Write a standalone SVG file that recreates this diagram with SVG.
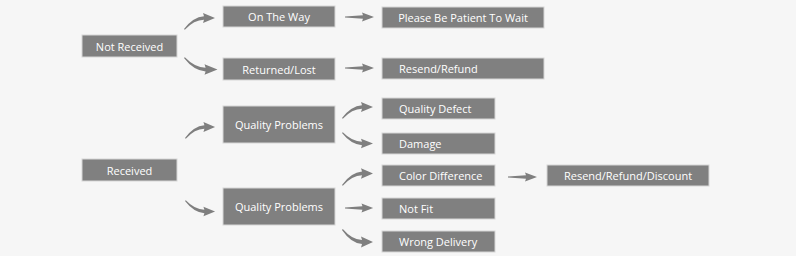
<svg xmlns="http://www.w3.org/2000/svg" xmlns:xlink="http://www.w3.org/1999/xlink" width="796" height="256" viewBox="0 0 796 256">
<style>
.box{fill:#808080;stroke:#d6d6d6;stroke-width:1}
.t{fill:#ffffff;font-family:"Open Sans","Noto Sans",sans-serif;font-size:11px;dominant-baseline:central}
.c{text-anchor:middle}
.arr{fill:#7f7f7f}
</style>
<defs>
<path id="cu" d="M0,0 Q9,-12 20,-12.8 L19,-16 L31,-11 L19,-6 L20,-9.2 Q10,-9 0.8,0.8 Z"/>
<path id="st" d="M0,-0.5 L18,-1.8 L17,-4.5 L29,0 L17,4.5 L18,1.8 L0,0.5 Z"/>
</defs>
<rect width="796" height="256" fill="#f6f6f6"/>
<g id="connectors" class="arr">
<use xlink:href="#cu" transform="translate(184,29)"/>
<use xlink:href="#cu" transform="translate(184,58) scale(1.08,-1.05)"/>
<use xlink:href="#st" transform="translate(345,17)"/>
<use xlink:href="#st" transform="translate(345,68)"/>
<use xlink:href="#cu" transform="translate(185,138) scale(0.97,1)"/>
<use xlink:href="#cu" transform="translate(185,201) scale(0.97,-0.95)"/>
<use xlink:href="#cu" transform="translate(342,118)"/>
<use xlink:href="#cu" transform="translate(342,133) scale(1,-0.95)"/>
<use xlink:href="#cu" transform="translate(342,185) scale(1,1.05)"/>
<use xlink:href="#st" transform="translate(345,208) scale(0.97,1)"/>
<use xlink:href="#cu" transform="translate(342,230) scale(1,-1.1)"/>
<use xlink:href="#st" transform="translate(508,177)"/>
</g>
<g id="not-received"><rect class="box" x="82" y="35" width="95" height="22"/><text class="t c" x="129.5" y="46">Not Received</text></g>
<g id="on-the-way"><rect class="box" x="223" y="6" width="112" height="21"/><text class="t c" x="279" y="16.5">On The Way</text></g>
<g id="returned-lost"><rect class="box" x="223" y="58" width="112" height="22"/><text class="t c" x="279" y="69">Returned/Lost</text></g>
<g id="please-wait"><rect class="box" x="382" y="7" width="162" height="21"/><text class="t c" x="463" y="17.5">Please Be Patient To Wait</text></g>
<g id="resend-refund"><rect class="box" x="382" y="58" width="162" height="21"/><text class="t" x="399" y="68.5">Resend/Refund</text></g>
<g id="received"><rect class="box" x="82" y="159" width="95" height="22"/><text class="t c" x="129.5" y="170">Received</text></g>
<g id="quality-problems-1"><rect class="box" x="223" y="106" width="112" height="37"/><text class="t c" x="279" y="124.5">Quality Problems</text></g>
<g id="quality-problems-2"><rect class="box" x="223" y="188" width="112" height="37"/><text class="t c" x="279" y="206.5">Quality Problems</text></g>
<g id="quality-defect"><rect class="box" x="382" y="98" width="113" height="21"/><text class="t" x="399" y="108.5">Quality Defect</text></g>
<g id="damage"><rect class="box" x="382" y="133" width="113" height="21"/><text class="t" x="399" y="143.5">Damage</text></g>
<g id="color-difference"><rect class="box" x="382" y="165" width="113" height="21"/><text class="t" x="399" y="175.5">Color Difference</text></g>
<g id="not-fit"><rect class="box" x="382" y="198" width="113" height="21"/><text class="t" x="399" y="208.5">Not Fit</text></g>
<g id="wrong-delivery"><rect class="box" x="382" y="231" width="113" height="21"/><text class="t" x="399" y="241.5">Wrong Delivery</text></g>
<g id="resend-refund-discount"><rect class="box" x="547" y="165" width="162" height="21"/><text class="t c" x="628" y="175.5">Resend/Refund/Discount</text></g>
</svg>
